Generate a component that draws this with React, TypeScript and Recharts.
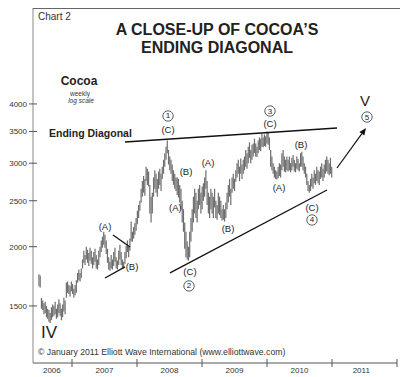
import React from 'react';
import { ComposedChart, Bar, XAxis, YAxis, ReferenceLine, ReferenceDot } from 'recharts';

// first weekly bar (end of June 2006), in decimal years; one bar per week
const firstWeek = 2006.492;
const weekStep = 7 / 365.25;

const weeklyHigh = [
  1750, 1740,
  1560, 1540, 1520, 1530,
  1500, 1480, 1470, 1450, 1490, 1510,
  1500, 1530, 1480, 1510, 1550, 1520, 1480, 1510,
  1560, 1540,
  1680,
  1690, 1660, 1650, 1690, 1670, 1630, 1660, 1700,
  1760, 1790, 1760, 1800,
  1880, 1960, 1920, 2000,
  1970, 1940, 1990, 1960, 1900, 1950, 1980, 1920, 1880, 1960,
  2000, 2060, 2100,
  2150, 2120,
  2060, 1980, 1900, 1860, 1920, 1880,
  1950, 1990, 1900, 1870, 1960, 2020, 1950, 1880, 1860,
  1950, 2010, 2060, 2000, 2080,
  2260,
  2150, 2200, 2240, 2300, 2380, 2450, 2500,
  2650, 2750, 2820, 2780,
  2950, 2920, 2880,
  2700, 2550, 2600,
  2800, 2900, 2850, 2780, 2880, 2920, 2850,
  2950, 3050, 3150, 3250,
  3350,
  3200, 3100, 3050,
  2980, 2900, 2850, 2800,
  2800, 2780, 2700,
  2650, 2500, 2400,
  2250, 2150, 2050, 2000,
  2150, 2300, 2400,
  2550, 2650, 2600, 2500,
  2650, 2700, 2600, 2680, 2720,
  2800, 2900, 2750, 2600, 2550, 2650,
  2600, 2550, 2650, 2500, 2450, 2600, 2550, 2500, 2400,
  2450, 2400, 2480,
  2600, 2700, 2780, 2650,
  2800, 2850, 2780,
  2900, 3000, 3050, 2950, 3070, 2980, 3050, 3100,
  3200, 3150, 3250, 3320, 3200, 3280, 3300,
  3380, 3300, 3250, 3350, 3400, 3380,
  3460, 3400, 3450, 3420,
  3500, 3480, 3400,
  3200, 3100, 3000,
  2950, 2900, 2880, 2950, 3000, 2980,
  3150, 3200, 3100, 3050, 3100,
  3050, 3100, 3000, 3080, 3120, 3050, 3000, 3100, 3060, 3000,
  3150, 3170, 3100, 3000, 2950,
  2850, 2750, 2700, 2780,
  2850, 2800, 2900, 2850, 2950, 2900, 2880, 2950, 3000, 2920, 2980, 3050,
  3100, 3050, 3000, 3080, 2950,
];

const weeklyLow = [
  1650, 1640,
  1480, 1470, 1440, 1450,
  1420, 1410, 1390, 1380, 1400, 1420,
  1430, 1440, 1410, 1420, 1450, 1430, 1400, 1420,
  1460, 1440,
  1560,
  1600, 1590, 1570, 1610, 1590, 1560, 1580, 1600,
  1680, 1700, 1690, 1720,
  1800, 1850, 1830, 1880,
  1850, 1820, 1870, 1840, 1800, 1830, 1860, 1800, 1790, 1830,
  1900, 1950, 1990,
  2020, 1990,
  1930, 1850, 1790, 1780, 1800, 1790,
  1820, 1860, 1800, 1790, 1830, 1880, 1830, 1800, 1800,
  1840, 1890, 1950, 1900, 1960,
  2050,
  2050, 2080, 2120, 2160, 2230, 2300, 2380,
  2480, 2550, 2600, 2560,
  2750, 2700, 2680,
  2350, 2250, 2350,
  2550, 2650, 2600, 2550, 2650, 2700, 2620,
  2780, 2850, 2950, 3050,
  3150,
  2980, 2900, 2850,
  2750, 2700, 2650, 2620,
  2570, 2540, 2480,
  2400, 2250, 2150,
  1980, 1900, 1880, 1870,
  1900, 2050, 2150,
  2250, 2350, 2300, 2250,
  2400, 2450, 2350, 2400, 2500,
  2550, 2650, 2450, 2350, 2300, 2400,
  2350, 2300, 2420, 2300, 2280, 2350, 2330, 2300, 2270,
  2280, 2260, 2300,
  2400, 2480, 2550, 2450,
  2600, 2650, 2620,
  2740, 2800, 2850, 2750, 2850, 2780, 2850, 2900,
  2950, 2920, 3000, 3080, 3000, 3050, 3100,
  3150, 3100, 3090, 3150, 3200, 3180,
  3250, 3240, 3260, 3250,
  3300, 3280, 3200,
  2950, 2900, 2850,
  2800, 2780, 2770, 2790, 2820, 2800,
  2900, 2950, 2880, 2870, 2900,
  2880, 2900, 2870, 2900, 2950, 2880, 2870, 2920, 2900, 2880,
  2950, 2950, 2900, 2850, 2800,
  2700, 2620, 2600, 2620,
  2680, 2650, 2720, 2700, 2750, 2720, 2700, 2780, 2800, 2750, 2800, 2850,
  2880, 2850, 2830, 2850, 2800,
];

const yearTicks = [2006.69, 2007, 2007.5, 2008, 2008.5, 2009, 2009.5, 2010, 2010.5, 2011, 2011.45, 2012];
const priceTicks = [1500, 2000, 2500, 3000, 3500, 4000];

const waveLabels = [
  { text: '(A)', t: 2007.508, p: 2201 },
  { text: '(B)', t: 2007.923, p: 1813 },
  { text: '(C)', t: 2008.477, p: 3525 },
  { text: '(A)', t: 2008.59, p: 2425 },
  { text: '(B)', t: 2008.754, p: 2875 },
  { text: '(C)', t: 2008.815, p: 1769 },
  { text: '(A)', t: 2009.092, p: 3003 },
  { text: '(B)', t: 2009.4, p: 2190 },
  { text: '(C)', t: 2010.046, p: 3629 },
  { text: '(A)', t: 2010.185, p: 2660 },
  { text: '(B)', t: 2010.523, p: 3293 },
  { text: '(C)', t: 2010.692, p: 2425 },
];

const waveNumbers = [
  { text: '1', t: 2008.477, p: 3773 },
  { text: '2', t: 2008.8, p: 1653 },
  { text: '3', t: 2010.046, p: 3865 },
  { text: '4', t: 2010.692, p: 2277 },
  { text: '5', t: 2011.538, p: 3754 },
];

const degreeLabels = [
  { text: 'IV', t: 2006.646, p: 1316, size: 17 },
  { text: 'V', t: 2011.508, p: 4077, size: 15 },
];

const trendLines = [
  { t1: 2007.815, p1: 3325, t2: 2011.077, p2: 3559 },
  { t1: 2008.508, p1: 1761, t2: 2010.923, p2: 2634 },
  { t1: 2007.631, p1: 2117, t2: 2007.892, p2: 1997 },
  { t1: 2007.508, p1: 1718, t2: 2007.815, p2: 1813 },
];

const arrowLine = { t1: 2011.077, p1: 2931, t2: 2011.523, p2: 3559 };

const data = weeklyHigh.map((h, i) => ({
  t: firstWeek + i * weekStep,
  range: [weeklyLow[i], h],
}));

const FONT = '"Liberation Sans", Arial, Helvetica, sans-serif';

const XTick = (props: any) => {
  const { x, payload } = props;
  const v = payload.value;
  if (Number.isInteger(v)) {
    return <line x1={x} x2={x} y1={359} y2={367} stroke="#555" strokeWidth={1} />;
  }
  return (
    <text x={x} y={373} textAnchor="middle" fontSize={8} fill="#333" fontFamily={FONT}>
      {Math.floor(v)}
    </text>
  );
};

const YTick = (props: any) => {
  const { y, payload } = props;
  return (
    <g>
      <line x1={29} x2={37} y1={y} y2={y} stroke="#555" strokeWidth={1} />
      <text x={27} y={y + 3} textAnchor="end" fontSize={8} fill="#333" fontFamily={FONT}>
        {payload.value}
      </text>
    </g>
  );
};

const makeLabel = (text: string, size: number) => (props: any) => {
  const vb = props.viewBox || {};
  const cx = (vb.x ?? 0) + (vb.width ?? 0) / 2;
  const cy = (vb.y ?? 0) + (vb.height ?? 0) / 2;
  return (
    <text
      x={cx}
      y={cy}
      textAnchor="middle"
      dominantBaseline="central"
      fontSize={size}
      fill="#222"
      stroke="none"
      fontFamily={FONT}
    >
      {text}
    </text>
  );
};

const ArrowShape = (props: any) => {
  const { x1, y1, x2, y2 } = props;
  const ang = Math.atan2(y2 - y1, x2 - x1);
  const len = 7;
  const w = 3;
  const bx = x2 - len * Math.cos(ang);
  const by = y2 - len * Math.sin(ang);
  const px = -Math.sin(ang) * w;
  const py = Math.cos(ang) * w;
  return (
    <g>
      <line x1={x1} y1={y1} x2={bx} y2={by} stroke="#111" strokeWidth={1.2} />
      <polygon points={`${x2},${y2} ${bx + px},${by + py} ${bx - px},${by - py}`} fill="#111" />
    </g>
  );
};

export default function App() {
  return (
    <div style={{ position: 'absolute', left: 0, top: 0, width: 400, height: 377, background: '#fff', fontFamily: FONT }}>
      <ComposedChart width={400} height={377} data={data} margin={{ top: 8, right: 3, bottom: 0, left: 0 }}>
        <XAxis
          dataKey="t"
          type="number"
          domain={[2006.4, 2012]}
          allowDataOverflow
          ticks={yearTicks}
          interval={0}
          tick={<XTick />}
          tickLine={false}
          axisLine={{ stroke: '#555' }}
          height={14}
        />
        <YAxis
          type="number"
          scale="log"
          domain={[1137, 6374]}
          allowDataOverflow
          ticks={priceTicks}
          interval={0}
          tick={<YTick />}
          tickLine={false}
          axisLine={{ stroke: '#888' }}
          width={33}
        />
        <Bar dataKey="range" fill="#6e6e6e" barSize={1.2} isAnimationActive={false} />
        {trendLines.map((l, i) => (
          <ReferenceLine
            key={'tl' + i}
            segment={[{ x: l.t1, y: l.p1 }, { x: l.t2, y: l.p2 }]}
            stroke="#111"
            strokeWidth={1.3}
          />
        ))}
        <ReferenceLine
          segment={[{ x: arrowLine.t1, y: arrowLine.p1 }, { x: arrowLine.t2, y: arrowLine.p2 }]}
          shape={<ArrowShape />}
        />
        {waveLabels.map((w, i) => (
          <ReferenceDot
            key={'wl' + i}
            x={w.t}
            y={w.p}
            r={1}
            fill="none"
            stroke="none"
            label={makeLabel(w.text, 9.5)}
          />
        ))}
        {waveNumbers.map((w, i) => (
          <ReferenceDot
            key={'wn' + i}
            x={w.t}
            y={w.p}
            r={5.2}
            fill="#fff"
            stroke="#333"
            strokeWidth={0.8}
            label={makeLabel(w.text, 8)}
          />
        ))}
        {degreeLabels.map((w, i) => (
          <ReferenceDot
            key={'dl' + i}
            x={w.t}
            y={w.p}
            r={1}
            fill="none"
            stroke="none"
            label={makeLabel(w.text, w.size)}
          />
        ))}
      </ComposedChart>
      <svg width={400} height={377} style={{ position: 'absolute', left: 0, top: 0, pointerEvents: 'none' }}>
        <line x1={33} y1={8.5} x2={400} y2={8.5} stroke="#666" strokeWidth={1} />
        <text x={38} y={20} fontSize={10} fill="#333" fontFamily={FONT}>Chart 2</text>
        <text x={217} y={35} fontSize={16} fontWeight="bold" fill="#222" textAnchor="middle" fontFamily={FONT}>A CLOSE-UP OF COCOA’S</text>
        <text x={217} y={53} fontSize={16} fontWeight="bold" fill="#222" textAnchor="middle" fontFamily={FONT}>ENDING DIAGONAL</text>
        <text x={79} y={85} fontSize={12} fontWeight="bold" fill="#222" textAnchor="middle" fontFamily={FONT}>Cocoa</text>
        <text x={80} y={96} fontSize={6.5} fill="#333" textAnchor="middle" fontFamily={FONT}>weekly</text>
        <text x={81} y={103} fontSize={6.5} fontStyle="italic" fill="#333" textAnchor="middle" fontFamily={FONT}>log scale</text>
        <text x={49} y={137} fontSize={10.5} fontWeight="bold" fill="#222" fontFamily={FONT}>Ending Diagonal</text>
        <text x={38} y={355} fontSize={8.7} fill="#333" fontFamily={FONT}>© January 2011 Elliott Wave International (www.elliottwave.com)</text>
      </svg>
    </div>
  );
}
